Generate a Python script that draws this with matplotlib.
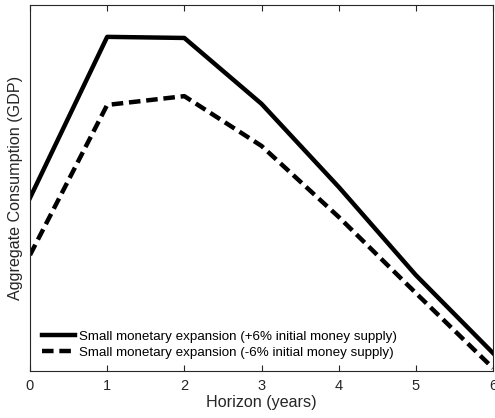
import matplotlib.pyplot as plt

plt.rcParams['font.family'] = ['Liberation Sans', 'DejaVu Sans']

horizon = [0, 1, 2, 3, 4, 5, 6]
pos_shock = [0.473, 0.913, 0.910, 0.730, 0.503, 0.262, 0.049]
neg_shock = [0.317, 0.727, 0.751, 0.615, 0.421, 0.213, 0.008]
labels = ['Small monetary expansion (+6% initial money supply)',
          'Small monetary expansion (-6% initial money supply)']

fig = plt.figure(figsize=(4.95, 4.18), dpi=100)
ax = fig.add_axes([0.0606, 0.1124, 0.9354, 0.8756])

ax.plot(horizon, pos_shock, color='k', linewidth=3.2, linestyle='-', label=labels[0])
ax.plot(horizon, neg_shock, color='k', linewidth=3.2, linestyle=(0, (2.6, 1.3)), label=labels[1])

ax.set_xlim(0, 6)
ax.set_ylim(0, 1)
ax.set_xticks(horizon)
ax.set_yticks([])
ax.tick_params(axis='x', direction='in', top=True, length=4, labelsize=10.5, colors='#262626', pad=6)
for s in ax.spines.values():
    s.set_color('#262626')
    s.set_linewidth(0.8)

ax.set_xlabel("Horizon (years)", fontsize=11.6, color='#262626', labelpad=1)
ax.set_ylabel("Aggregate Consumption (GDP)", fontsize=11.6, color='#262626', labelpad=5)
ax.legend(loc='lower left', frameon=False, fontsize=9.6, handlelength=2.5,
          handletextpad=0.3, labelspacing=0.3, borderaxespad=0.5)

plt.savefig("out.png", dpi=100)
